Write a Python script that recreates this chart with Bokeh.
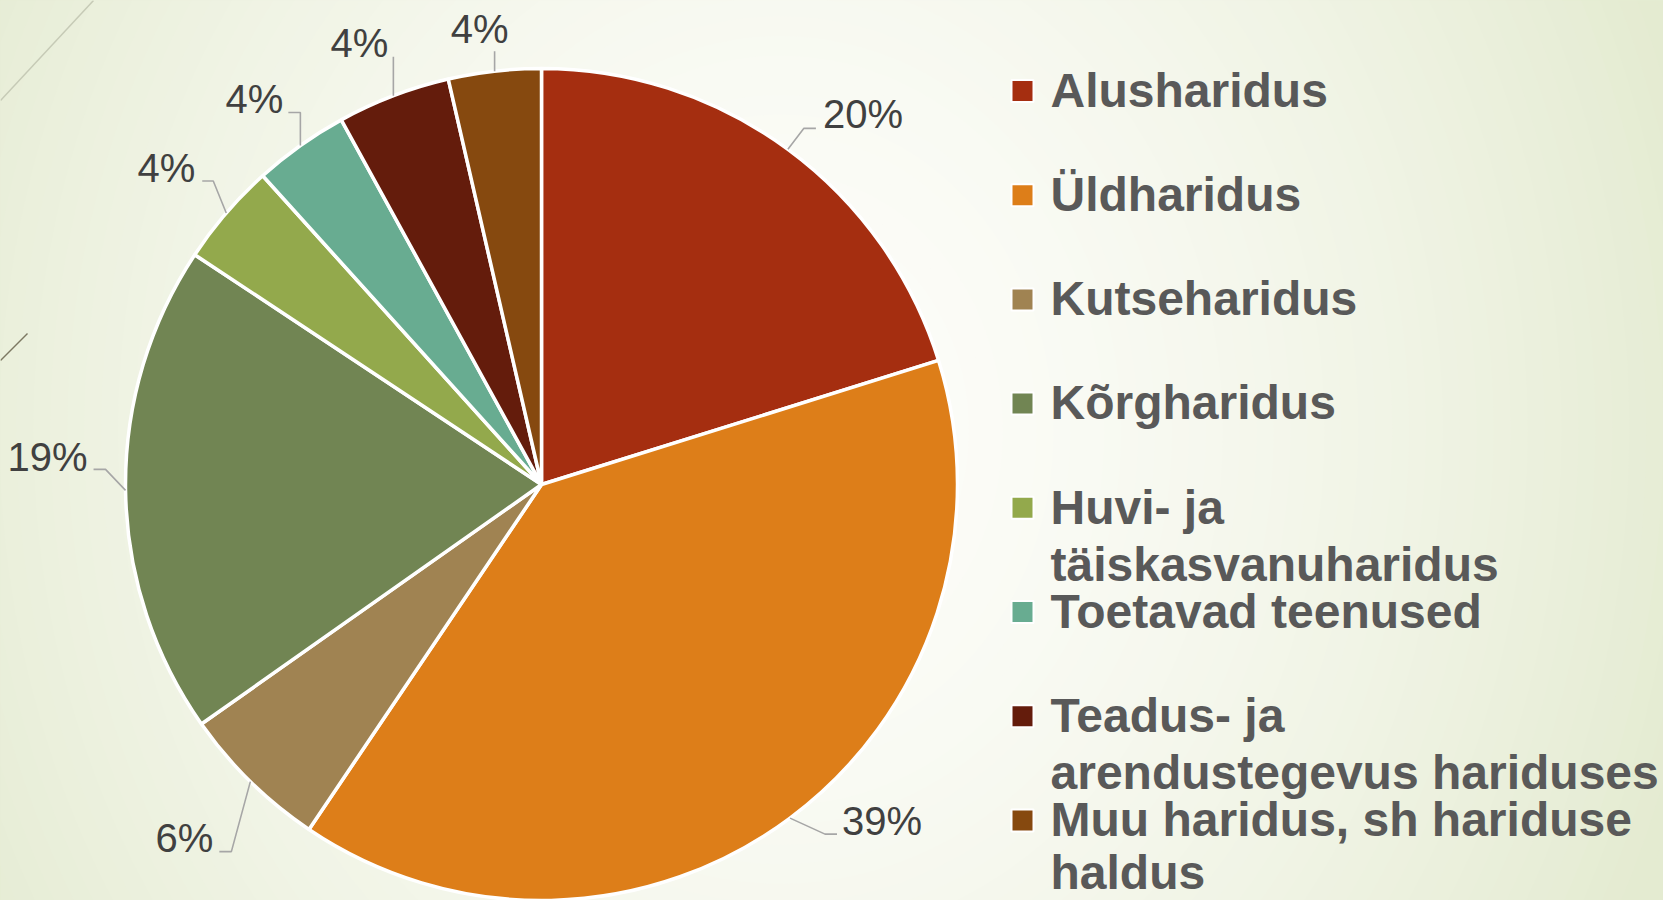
import numpy as np
from bokeh.plotting import figure
from bokeh.models import ColumnDataSource, Range1d
from bokeh.core.properties import value
from bokeh.embed import file_html
from bokeh.resources import INLINE

# ---------------- data ----------------
categories = ["Alusharidus", "Üldharidus", "Kutseharidus", "Kõrgharidus",
              "Huvi- ja täiskasvanuharidus", "Toetavad teenused",
              "Teadus- ja arendustegevus hariduses",
              "Muu haridus, sh hariduse haldus"]
shares = [20.2, 39.3, 5.8, 19.1, 4.0, 3.7, 4.4, 3.6]
legend_lines = [["Alusharidus"], ["Üldharidus"], ["Kutseharidus"], ["Kõrgharidus"],
                ["Huvi- ja", "täiskasvanuharidus"], ["Toetavad teenused"],
                ["Teadus- ja", "arendustegevus hariduses"],
                ["Muu haridus, sh hariduse", "haldus"]]

# ---------------- styles ----------------
colors = ["#A52E10", "#DD7E19", "#A08352", "#718553",
          "#93A94C", "#68AC91", "#641C0C", "#86490F"]
# leader geometry (screen px offsets from the slice's edge anchor, y down)
elbow_off = [(16, -21), (35, 16), (-19, 70), (-20, -21), (-13, -32), (0, -33), (0, -39), (0, -20)]
end_off = [(28, -21), (47, 16), (-31, 70), (-32, -21), (-24, -32), (-12, -33), (0, -39), (0, -20)]
lab_align = ["left", "left", "right", "right", "right", "right", "right", "right"]
lab_dx = [7, 5, -6, -6, -7, -5, -5, 14]
lab_dy = [0, 1, 1, 2, 1, 1, 1, -8]

W, H = 1663, 900
PCT_FS = 40
LEG_FS = 48
BASE_FIX = 0.36  # raise alphabetic baseline to where it is drawn


def sx(X):
    return X


def sy(Y):
    return H - Y


p = figure(width=W, height=H, x_range=Range1d(0, W), y_range=Range1d(0, H),
           toolbar_location=None, output_backend="svg", min_border=0,
           x_axis_type=None, y_axis_type=None)
p.grid.visible = False
p.outline_line_color = None

# ---------------- background gradient ----------------
c_in = np.array([0xFD, 0xFD, 0xFA], float)
c_out = np.array([0xE4, 0xEB, 0xD1], float)
p.background_fill_color = "#E4EBD1"
p.border_fill_color = "#E4EBD1"
ts = np.linspace(1.25, 0.02, 70)
bg_cols = []
for t in ts:
    k = min(t, 1.0) ** 1.6
    c = c_in + (c_out - c_in) * k
    bg_cols.append("#%02x%02x%02x" % tuple(int(round(v)) for v in c))
p.ellipse(x=[sx(780)] * len(ts), y=[sy(430)] * len(ts),
          width=list(2 * 950 * ts), height=list(2 * 1100 * ts),
          fill_color=bg_cols, line_color=None)
# decorative slide lines
p.segment(x0=[sx(0), sx(0)], y0=[sy(100), sy(360)], x1=[sx(93), sx(27)], y1=[sy(0), sy(333)],
          line_color=["#C6CAB6", "#7D7862"], line_width=1.5)

# ---------------- pie ----------------
cx, cy, R = sx(541), sy(484), 416
total = float(sum(shares))
frac = np.array(shares) / total
cum = np.concatenate([[0.0], np.cumsum(frac)])
start = np.pi / 2 - 2 * np.pi * cum[:-1]
end = np.pi / 2 - 2 * np.pi * cum[1:]
src = ColumnDataSource(dict(start=start, end=end, color=colors, cat=categories))
p.wedge(x=cx, y=cy, radius=R, start_angle="start", end_angle="end", direction="clock",
        fill_color="color", line_color="white", line_width=3.5, source=src)

# ---------------- percent labels with leaders ----------------
mid = 2 * np.pi * (cum[:-1] + cum[1:]) / 2
ax = cx + R * np.sin(mid)
ay = cy + R * np.cos(mid)
lx, ly = [], []
tx, ty, tt = [], [], []
for i in range(len(shares)):
    ex, ey = elbow_off[i]
    fx, fy = end_off[i]
    lx.append([ax[i], ax[i] + ex, ax[i] + fx])
    ly.append([ay[i], ay[i] - ey, ay[i] - fy])
    tx.append(ax[i] + fx + lab_dx[i])
    ty.append(ay[i] - fy - lab_dy[i] + BASE_FIX * PCT_FS)
    tt.append(f"{round(frac[i] * 100)}%")
p.multi_line(xs=lx, ys=ly, line_color="#A6A6A6", line_width=1.6)
for al in ("left", "right"):
    idx = [i for i in range(len(tt)) if lab_align[i] == al]
    p.text(x=[tx[i] for i in idx], y=[ty[i] for i in idx], text=[tt[i] for i in idx],
           text_align=al, text_baseline="alphabetic",
           text_font=value("Liberation Sans"), text_font_size=f"{PCT_FS}px",
           text_color="#404040")

# ---------------- legend ----------------
leg_y0, leg_step = 90.5, 104.2
sq_x = []
sq_y = []
lt_x, lt_y, lt_t = [], [], []
for i, lines in enumerate(legend_lines):
    yc = leg_y0 + i * leg_step
    sq_x.append(sx(1022))
    sq_y.append(sy(yc))
    for j, line in enumerate(lines):
        base = min(yc + 16.5 + 57.5 * j, H - 11)
        lt_x.append(sx(1050))
        lt_y.append(sy(base) + BASE_FIX * LEG_FS)
        lt_t.append(line)
p.rect(x=sq_x, y=sq_y, width=22, height=22, fill_color=colors,
       line_color="white", line_width=2)
p.text(x=lt_x, y=lt_y, text=lt_t, text_align="left", text_baseline="alphabetic",
       text_font=value("Liberation Sans"), text_font_style="bold",
       text_font_size=f"{LEG_FS}px", text_color="#595959")

open("out.html", "w").write(file_html(p, INLINE))
